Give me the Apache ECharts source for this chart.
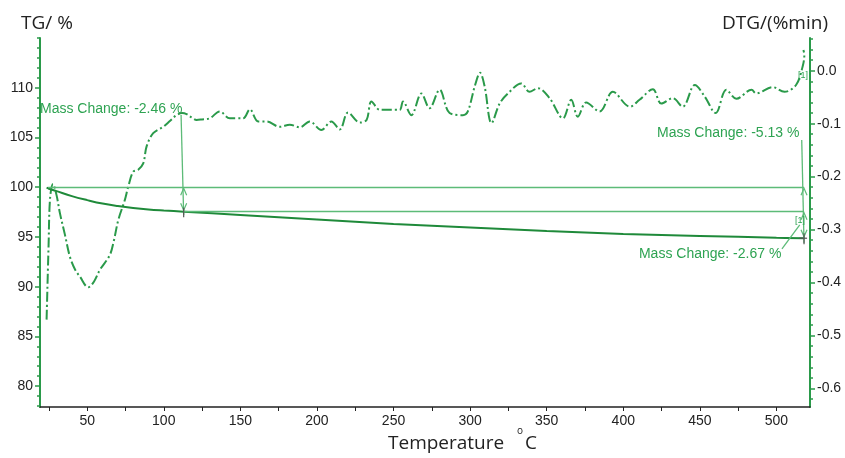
<!DOCTYPE html>
<html><head><meta charset="utf-8">
<script src="https://cdn.jsdelivr.net/npm/echarts@6/dist/echarts.min.js"></script>
<style>html,body{margin:0;padding:0;background:#fff}#c{width:845px;height:458px}</style>
</head><body><div id="c"></div>
<script>
// ---- data ----
const tgTemp  = [23.5, 25, 30, 40, 50, 60, 70, 80, 90, 100, 113, 150, 200, 250, 300, 350, 400, 450, 500, 518];
const tgValue = [99.95, 99.85, 99.6, 99.1, 98.7, 98.35, 98.1, 97.9, 97.75, 97.65, 97.54, 97.2, 96.75, 96.3, 95.95, 95.6, 95.3, 95.1, 94.92, 94.87];

const dtgTemp  = [23.5, 24.8, 25.8, 27.7, 30, 32.2, 35.5, 38.7, 42, 45.3, 50.7, 54.5, 58.3, 64.8, 67.5, 70.3, 74.6, 76.8, 80, 83.3, 86.6, 88.8, 93.1, 99.6, 104, 108.3, 112, 114.9, 118, 121.4, 125, 130, 136.6, 143.1, 151.8, 156.2, 161.6, 167.1, 175.7, 182.3, 188.8, 195.3, 202.9, 209.4, 214.9, 220.3, 228, 232.4, 235.6, 241.1, 248.6, 254, 256.2, 261.6, 268.2, 273.5, 280.1, 286.6, 295.3, 298.5, 303, 306.5, 309.5, 314, 319.3, 324.7, 333.4, 338.8, 344.2, 351.9, 360.6, 366, 370.3, 375.8, 384.5, 393.2, 404.3, 410.6, 419.3, 424.8, 432.3, 438.8, 446.7, 453.2, 460.3, 467.3, 473.8, 483.8, 486.7, 497.5, 505.2, 512.8, 517.1, 518.2, 517.6];
const dtgValue = [-0.47, -0.33, -0.24, -0.214, -0.235, -0.269, -0.31, -0.351, -0.375, -0.389, -0.409, -0.398, -0.376, -0.348, -0.32, -0.282, -0.244, -0.219, -0.191, -0.187, -0.175, -0.143, -0.118, -0.106, -0.095, -0.084, -0.080, -0.082, -0.088, -0.093, -0.092, -0.090, -0.077, -0.090, -0.090, -0.073, -0.096, -0.096, -0.106, -0.102, -0.107, -0.096, -0.112, -0.096, -0.111, -0.079, -0.098, -0.093, -0.058, -0.074, -0.074, -0.074, -0.058, -0.084, -0.043, -0.071, -0.036, -0.080, -0.084, -0.077, -0.03, -0.004, -0.030, -0.099, -0.062, -0.043, -0.024, -0.040, -0.033, -0.052, -0.090, -0.055, -0.087, -0.060, -0.077, -0.040, -0.068, -0.055, -0.035, -0.062, -0.052, -0.068, -0.027, -0.049, -0.080, -0.036, -0.053, -0.036, -0.043, -0.031, -0.040, -0.027, 0.008, 0.030, 0.039];

const xTickLabels   = [50, 100, 150, 200, 250, 300, 350, 400, 450, 500];
const xMinorTicks   = [25, 50, 75, 100, 125, 150, 175, 200, 225, 250, 275, 300, 325, 350, 375, 400, 425, 450, 475, 500];
const tgTickLabels  = [80, 85, 90, 95, 100, 105, 110];
const dtgTickLabels = [-0.6, -0.5, -0.4, -0.3, -0.2, -0.1, 0.0];

const massChanges = [-2.46, -5.13, -2.67];
const stepTemps   = [113, 518];      // temperatures of the evaluation markers
const startLevel  = 100;

// ---- styles ----
const GREEN = '#2a9a4a', TGCOL = '#1f8a3a', LIGHT = '#5dbb78', TXT = '#2ea352', DARK = '#222';
const tgMinor = []; for (let v = 78; v <= 115; v++) tgMinor.push(v);
const dtgMinor = []; for (let i = -31; i <= 3; i++) dtgMinor.push(+(i * 0.02).toFixed(2));

const chart = echarts.init(document.getElementById('c'), null, {renderer: 'canvas'});
const grid = {left: 40, right: 35, top: 38, bottom: 51};
const lab = {fontFamily: 'Liberation Sans, Arial, sans-serif', fontSize: 14, color: DARK};

const tgData = tgTemp.map((t, i) => [t, tgValue[i]]);
const dtgData = dtgTemp.map((t, i) => [t, dtgValue[i]]);

chart.setOption({
  animation: false,
  grid: grid,
  xAxis: {
    type: 'value', min: 19.2, max: 521.9,
    axisLine: {show: true, onZero: false, lineStyle: {color: DARK, width: 1.5}},
    axisTick: {show: true, customValues: xMinorTicks, length: 4, lineStyle: {color: DARK}},
    axisLabel: Object.assign({customValues: xTickLabels, margin: 7}, lab),
    splitLine: {show: false}
  },
  yAxis: [
    { type: 'value', position: 'left', min: 77.9, max: 115,
      axisLine: {show: true, lineStyle: {color: GREEN, width: 2}},
      axisTick: {show: true, customValues: tgTickLabels, length: 5, lineStyle: {color: GREEN, width: 1.5}},
      axisLabel: Object.assign({customValues: tgTickLabels, margin: 7}, lab),
      splitLine: {show: false}},
    { type: 'value', position: 'right', min: -0.635, max: 0.0617,
      axisLine: {show: true, lineStyle: {color: GREEN, width: 2}},
      axisTick: {show: true, customValues: dtgTickLabels, length: 5, lineStyle: {color: GREEN, width: 1.5}},
      axisLabel: Object.assign({customValues: dtgTickLabels, margin: 7, formatter: v => v.toFixed(1)}, lab),
      splitLine: {show: false}},
    { type: 'value', position: 'left', min: 77.9, max: 115,
      axisLine: {show: false}, axisLabel: {show: false}, splitLine: {show: false},
      axisTick: {show: true, customValues: tgMinor, length: 3, lineStyle: {color: GREEN, width: 1.5}}},
    { type: 'value', position: 'right', min: -0.635, max: 0.0617,
      axisLine: {show: false}, axisLabel: {show: false}, splitLine: {show: false},
      axisTick: {show: true, customValues: dtgMinor, length: 3, lineStyle: {color: GREEN, width: 1.5}}}
  ],
  series: [
    { type: 'line', name: 'TG', yAxisIndex: 0, data: tgData, smooth: 0.4, symbol: 'none',
      lineStyle: {color: TGCOL, width: 2}, z: 3,
      markLine: {
        silent: true, symbol: 'none', label: {show: false},
        lineStyle: {color: LIGHT, width: 1.3, type: 'solid'},
        data: [
          [{coord: [24.5, startLevel]}, {coord: [stepTemps[1], startLevel]}],
          [{coord: [stepTemps[0], startLevel + massChanges[0]]}, {coord: [stepTemps[1], startLevel + massChanges[0]]}]
        ]
      }},
    { type: 'line', name: 'DTG', yAxisIndex: 1, data: dtgData, smooth: 0.35, symbol: 'none',
      lineStyle: {color: GREEN, width: 2, type: [10, 3, 2, 3]}, z: 2}
  ]
});

// ---- annotations (placed from data coordinates) ----
function px(t, v) { return chart.convertToPixel({xAxisIndex: 0, yAxisIndex: 0}, [t, v]); }
function arrow(t, v, dir) { // dir: -1 tip points up, +1 tip points down
  const p = px(t, v);
  return {type: 'polyline', shape: {points: [[p[0] - 3, p[1] - dir * 7], [p[0], p[1]], [p[0] + 3, p[1] - dir * 7]]},
    style: {stroke: LIGHT, lineWidth: 1.2, fill: null}, z: 10};
}
function seg(a, b, col, w) {
  return {type: 'line', shape: {x1: a[0], y1: a[1], x2: b[0], y2: b[1]}, style: {stroke: col || LIGHT, lineWidth: w || 1.3}, z: 10};
}
function txt(p, s, align, size, col, font) {
  return {type: 'text', x: p[0], y: p[1], z: 11,
    style: {text: s, align: align || 'left', verticalAlign: 'middle', fill: col || TXT,
      font: (size || 14) + 'px ' + (font || 'Liberation Sans, Arial, sans-serif')}};
}
const lv1 = startLevel + massChanges[0], lv2 = startLevel + massChanges[1];
const g = [];
// step 1
g.push(txt(px(19.2, 107.8), 'Mass Change: ' + massChanges[0].toFixed(2) + ' %', 'left'));
g.push(seg(px(111.3, 107.25), px(stepTemps[0], 97.2)));
g.push(arrow(stepTemps[0], startLevel - 0.1, -1));
g.push(arrow(stepTemps[0], lv1 + 0.15, 1));
g.push(seg(px(stepTemps[0], lv1 + 0.4), px(stepTemps[0], lv1 - 0.55), '#555', 1.2));
// total
g.push(txt(px(515, 105.45), 'Mass Change: ' + massChanges[1].toFixed(2) + ' %', 'right'));
g.push(seg(px(516.5, 104.75), px(stepTemps[1], 94.4)));
g.push(arrow(stepTemps[1], startLevel - 0.1, -1));
g.push(arrow(stepTemps[1], lv1 - 0.1, -1));
g.push(arrow(stepTemps[1], lv2 + 0.15, 1));
g.push(seg(px(stepTemps[1] - 3, lv2), px(stepTemps[1] + 2, lv2), '#555', 1.2));
g.push(seg(px(stepTemps[1], lv2 + 0.5), px(stepTemps[1], lv2 - 0.6), '#555', 1.2));
// step 2
g.push(txt(px(503.2, 93.25), 'Mass Change: ' + massChanges[2].toFixed(2) + ' %', 'right'));
g.push(seg(px(503.6, 93.8), px(515.2, 96.2)));
g.push(txt(px(515.3, 96.6), '[1]', 'center', 9, TXT));
g.push(txt(px(517.3, 111.2), '[1]', 'center', 9, TXT));
// titles
g.push({type: 'text', left: 21, top: 14, style: {text: 'TG/ %', font: '19px "Open Sans", sans-serif', fill: DARK}});
g.push({type: 'text', right: 17, top: 14, style: {text: 'DTG/(%min)', font: '19px "Open Sans", sans-serif', fill: DARK}});
g.push({type: 'text', left: 388, top: 434, style: {text: 'Temperature', font: '19px "Open Sans", sans-serif', fill: DARK}});
g.push({type: 'text', left: 517, top: 426, style: {text: 'o', font: '10px "Open Sans", sans-serif', fill: DARK}});
g.push({type: 'text', left: 525, top: 434, style: {text: 'C', font: '19px "Open Sans", sans-serif', fill: DARK}});
chart.setOption({graphic: g});
</script></body></html>
